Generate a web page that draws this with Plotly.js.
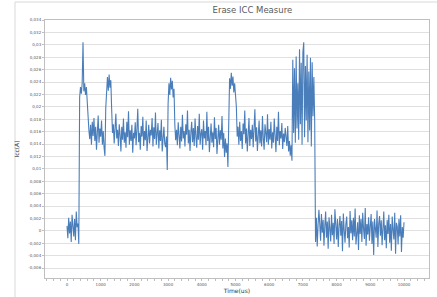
<!DOCTYPE html>
<html>
<head>
<meta charset="utf-8">
<script src="https://cdn.plot.ly/plotly-3.0.1.min.js"></script>
<style>html,body{margin:0;padding:0;background:#fff;}#chart{width:437px;height:297px;}</style>
</head>
<body>
<div id="chart"></div>
<script>
// Sampling of the measurement (µs)
const timeStart = 0;
const timeStep = 25;

// Icc (A), one value every 25 µs from 0 to 10000 µs
const iccValues = [
  0.0008, -0.0012, 0.0021, -0.0004, 0.0015, -0.0018, 0.0026, 0.0003, -0.0009, 0.0019, -0.0015, 0.0031, 0.0006, 0.0012, -0.0021, 0.0215, 0.0232, 0.0221, 0.0238, 0.0304,
  0.0225, 0.0238, 0.0219, 0.0232, 0.0205, 0.0184, 0.0162, 0.0148, 0.0171, 0.0139, 0.0176, 0.0153, 0.0182, 0.0145, 0.0168, 0.0131, 0.0159, 0.0186, 0.0142, 0.0165,
  0.0152, 0.0178, 0.0139, 0.0161, 0.0134, 0.0121, 0.0198, 0.0232, 0.0248, 0.0226, 0.0252, 0.0231, 0.0243, 0.0196, 0.0158, 0.0172, 0.0141, 0.0166, 0.0189, 0.0149,
  0.0163, 0.0137, 0.0172, 0.0155, 0.0128, 0.0168, 0.0147, 0.0181, 0.0142, 0.0159, 0.0134, 0.0176, 0.0151, 0.0193, 0.0139, 0.0162, 0.0145, 0.0171, 0.0126, 0.0158,
  0.0149, 0.0175, 0.0138, 0.0164, 0.0197, 0.0143, 0.0158, 0.0131, 0.0169, 0.0152, 0.0184, 0.0137, 0.0161, 0.0146, 0.0178, 0.0129, 0.0157, 0.0171, 0.0141, 0.0163,
  0.0154, 0.0182, 0.0136, 0.0167, 0.0148, 0.0191, 0.0139, 0.0158, 0.0174, 0.0133, 0.0162, 0.0145, 0.0179, 0.0128, 0.0156, 0.0168, 0.0141, 0.0135, 0.0152, 0.0098,
  0.0205, 0.0238, 0.0219, 0.0247, 0.0228, 0.0242, 0.0215, 0.0229, 0.0171, 0.0146, 0.0163, 0.0138, 0.0175, 0.0152, 0.0133, 0.0168, 0.0144, 0.0187, 0.0149, 0.0161,
  0.0136, 0.0172, 0.0155, 0.0194, 0.0141, 0.0163, 0.0129, 0.0158, 0.0176, 0.0143, 0.0166, 0.0137, 0.0181, 0.0152, 0.0134, 0.0169, 0.0147, 0.0189, 0.0139, 0.0157,
  0.0164, 0.0131, 0.0178, 0.0149, 0.0161, 0.0138, 0.0192, 0.0145, 0.0168, 0.0127, 0.0155, 0.0173, 0.0142, 0.0159, 0.0135, 0.0183, 0.0148, 0.0166, 0.0124, 0.0157,
  0.0171, 0.0139, 0.0162, 0.0147, 0.0185, 0.0133, 0.0158, 0.0119, 0.0149, 0.0126, 0.0141, 0.0103, 0.0212, 0.0246, 0.0229, 0.0255, 0.0234, 0.0249, 0.0223, 0.0238,
  0.0219, 0.0201, 0.0152, 0.0168, 0.0139, 0.0176, 0.0145, 0.0161, 0.0132, 0.0173, 0.0156, 0.0194, 0.0141, 0.0165, 0.0128, 0.0159, 0.0182, 0.0137, 0.0163, 0.0148,
  0.0171, 0.0135, 0.0158, 0.0196, 0.0144, 0.0167, 0.0129, 0.0153, 0.0178, 0.0141, 0.0162, 0.0136, 0.0185, 0.0149, 0.0131, 0.0172, 0.0155, 0.0143, 0.0188, 0.0139,
  0.0164, 0.0147, 0.0176, 0.0133, 0.0159, 0.0142, 0.0181, 0.0151, 0.0127, 0.0168, 0.0145, 0.0192, 0.0138, 0.0161, 0.0149, 0.0174, 0.0132, 0.0157, 0.0143, 0.0166,
  0.0152, 0.0137, 0.0169, 0.0128, 0.0145, 0.0121, 0.0138, 0.0113, 0.0276, 0.0158, 0.0262, 0.0142, 0.0281, 0.0165, 0.0238, 0.0147, 0.0293, 0.0172, 0.0271, 0.0139,
  0.0288, 0.0304, 0.0151, 0.0266, 0.0178, 0.0284, 0.0143, 0.0257, 0.0162, 0.0279, 0.0136, 0.0272, 0.0185, 0.0248, 0.0178, -0.0018, 0.0021, -0.0025, 0.0009, 0.0034,
  0.0012, -0.0016, 0.0027, -0.0003, 0.0018, -0.0024, 0.0008, 0.0031, -0.0011, 0.0015, -0.0029, 0.0022, 0.0004, -0.0017, 0.0026, -0.0007, 0.0013, -0.0021, 0.0035, 0.0002,
  -0.0014, 0.0019, -0.0026, 0.0009, 0.0024, -0.0008, 0.0016, -0.0033, 0.0028, 0.0001, -0.0019, 0.0011, 0.0023, -0.0012, 0.0006, -0.0027, 0.0032, -0.0004, 0.0017, -0.0015,
  0.0021, -0.0009, 0.0036, -0.0022, 0.0007, 0.0014, -0.0031, 0.0025, -0.0005, 0.0019, -0.0018, 0.0029, 0.0003, -0.0013, 0.0037, -0.0024, 0.0011, -0.0006, 0.0022, -0.0016,
  0.0008, 0.0027, -0.0021, 0.0015, -0.0039, 0.0019, 0.0004, -0.0011, 0.0033, -0.0026, 0.0012, 0.0024, -0.0008, 0.0017, -0.0023, 0.0006, 0.0031, -0.0015, 0.0009, -0.0028,
  0.0018, -0.0005, 0.0026, -0.0019, 0.0011, -0.0032, 0.0023, 0.0002, -0.0014, 0.0029, -0.0037, 0.0013, 0.0007, -0.0022, 0.0019, -0.0009, 0.0025, -0.0034, 0.0006, -0.0011,
  0.0014
];

// Axis ticks
const xTickValues = [0, 1000, 2000, 3000, 4000, 5000, 6000, 7000, 8000, 9000, 10000];
const xTickLabels = ["0", "1000", "2000", "3000", "4000", "5000", "6000", "7000", "8000", "9000", "10000"];
const yTickValues = [0.034, 0.032, 0.03, 0.028, 0.026, 0.024, 0.022, 0.02, 0.018, 0.016, 0.014, 0.012, 0.01, 0.008, 0.006, 0.004, 0.002, 0, -0.002, -0.004, -0.006];
const yTickLabels = ["0,034", "0,032", "0,03", "0,028", "0,026", "0,024", "0,022", "0,02", "0,018", "0,016", "0,014", "0,012", "0,01", "0,008", "0,006", "0,004", "0,002", "0", "-0,002", "-0,004", "-0,006"];

const chartTitle = "Erase ICC Measure";
const xTitle = "Time(us)";
const yTitle = "Icc(A)";

const trace = {
  type: "scatter",
  mode: "lines",
  x0: timeStart,
  dx: timeStep,
  y: iccValues,
  line: {color: "#4a7ebb", width: 1.1},
  hoverinfo: "skip"
};

const layout = {
  width: 437,
  height: 297,
  margin: {l: 45, r: 8, t: 20, b: 19, pad: 0},
  paper_bgcolor: "#ffffff",
  plot_bgcolor: "#ffffff",
  showlegend: false,
  font: {family: "DejaVu Sans, sans-serif", color: "#595959"},
  title: {
    text: chartTitle,
    font: {size: 8.5, color: "#595959", family: "DejaVu Sans, sans-serif"},
    x: 0.54, xanchor: "center", xref: "paper",
    y: 1 - 10.5 / 297, yanchor: "middle", yref: "container"
  },
  xaxis: {
    range: [-653, 10742],
    tickvals: xTickValues,
    ticktext: xTickLabels,
    tickfont: {size: 4, color: "#595959"},
    ticks: "outside", ticklen: 2, tickcolor: "#bfbfbf",
    minor: {ticks: "outside", dtick: 200, ticklen: 2, tickcolor: "#bfbfbf", showgrid: false},
    showgrid: false,
    zeroline: false,
    showline: true, linecolor: "#bfbfbf", linewidth: 1, mirror: true,
    title: {text: xTitle, font: {size: 6, color: "#333333", family: "DejaVu Sans, sans-serif"}, standoff: 3}
  },
  yaxis: {
    range: [-0.0076, 0.034],
    tickvals: yTickValues,
    ticktext: yTickLabels,
    tickfont: {size: 4, color: "#595959"},
    ticks: "outside", ticklen: 2, tickcolor: "#bfbfbf",
    showgrid: true, gridcolor: "#e0e0e0", gridwidth: 1,
    zeroline: false,
    showline: true, linecolor: "#bfbfbf", linewidth: 1, mirror: true,
    title: {text: yTitle, font: {size: 6, color: "#333333", family: "DejaVu Sans, sans-serif"}, standoff: 8}
  },
  shapes: [
    {type: "line", xref: "paper", yref: "paper", x0: -30/384, x1: -30/384, y0: -19/258, y1: 276/258, line: {color: "#d9d9d9", width: 1}},
    {type: "line", xref: "paper", yref: "paper", x0: -30/384, x1: 392/384, y0: 276/258, y1: 276/258, line: {color: "#d9d9d9", width: 1}}
  ]
};

Plotly.newPlot("chart", [trace], layout, {staticPlot: true, displayModeBar: false});
</script>
</body>
</html>
